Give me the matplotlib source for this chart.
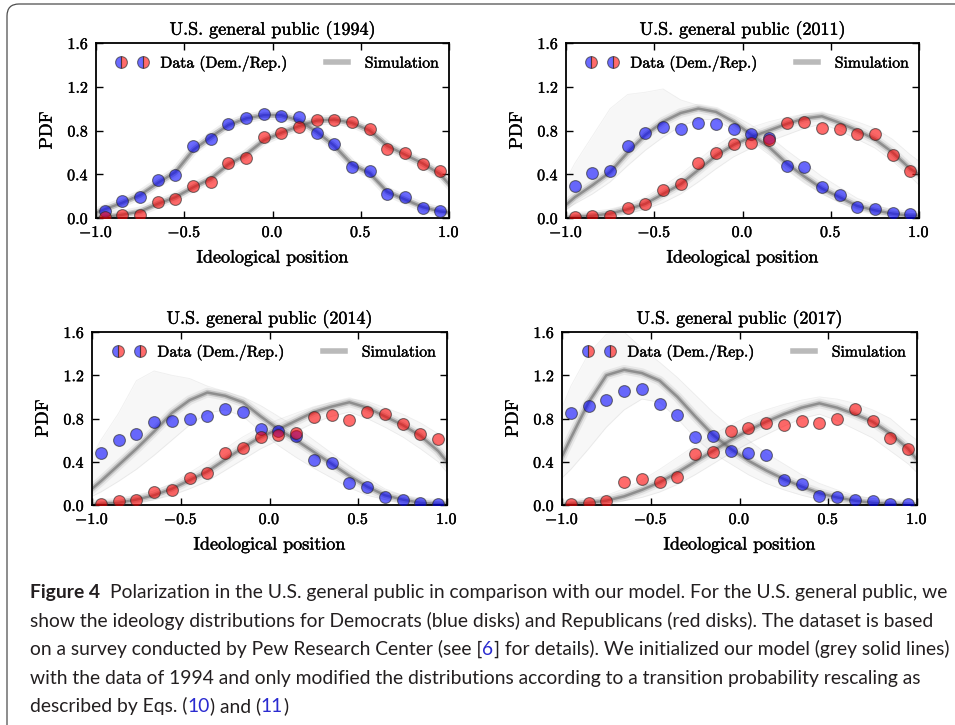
import matplotlib
matplotlib.use('Agg')
import matplotlib.pyplot as plt
import matplotlib.patheffects as pe
from matplotlib.lines import Line2D
from matplotlib.patches import FancyBboxPatch
from matplotlib.transforms import IdentityTransform

plt.rcParams['font.family'] = 'serif'
plt.rcParams['font.serif'] = ['cmr10']
plt.rcParams['mathtext.fontset'] = 'cm'
plt.rcParams['axes.formatter.use_mathtext'] = True

# survey bins (data) and model grid (simulation)
x_data = [-0.95, -0.85, -0.75, -0.65, -0.55, -0.45, -0.35, -0.25, -0.15, -0.05,
          0.05, 0.15, 0.25, 0.35, 0.45, 0.55, 0.65, 0.75, 0.85, 0.95]
x_sim = [-1.0] + x_data + [1.0]

years = ['1994', '2011', '2014', '2017']

# Pew survey, Democrats / Republicans
dem_1994 = [0.06, 0.16, 0.19, 0.35, 0.39, 0.66, 0.72, 0.86, 0.91, 0.95,
            0.93, 0.92, 0.78, 0.68, 0.47, 0.43, 0.22, 0.19, 0.09, 0.06]
rep_1994 = [0.01, 0.03, 0.03, 0.15, 0.17, 0.29, 0.33, 0.50, 0.55, 0.74,
            0.78, 0.83, 0.90, 0.90, 0.88, 0.81, 0.63, 0.59, 0.49, 0.43]
dem_2011 = [0.29, 0.41, 0.43, 0.66, 0.78, 0.83, 0.81, 0.87, 0.86, 0.81,
            0.77, 0.73, 0.48, 0.47, 0.28, 0.21, 0.10, 0.08, 0.05, 0.04]
rep_2011 = [0.01, 0.02, 0.02, 0.09, 0.13, 0.26, 0.31, 0.50, 0.59, 0.68,
            0.69, 0.71, 0.87, 0.88, 0.82, 0.81, 0.77, 0.77, 0.58, 0.43]
dem_2014 = [0.48, 0.60, 0.66, 0.77, 0.78, 0.80, 0.82, 0.89, 0.86, 0.70,
            0.68, 0.64, 0.42, 0.39, 0.20, 0.17, 0.07, 0.05, 0.02, 0.01]
rep_2014 = [0.01, 0.04, 0.05, 0.12, 0.14, 0.25, 0.30, 0.48, 0.53, 0.63,
            0.65, 0.67, 0.81, 0.83, 0.79, 0.86, 0.84, 0.75, 0.66, 0.61]
dem_2017 = [0.85, 0.92, 0.97, 1.05, 1.07, 0.93, 0.83, 0.63, 0.64, 0.50,
            0.48, 0.46, 0.23, 0.19, 0.08, 0.07, 0.05, 0.04, 0.01, 0.01]
rep_2017 = [0.01, 0.02, 0.04, 0.21, 0.24, 0.21, 0.26, 0.47, 0.49, 0.68,
            0.71, 0.76, 0.74, 0.78, 0.76, 0.80, 0.89, 0.78, 0.62, 0.52]

# model runs: bulk of the ensemble (mid) and its lower / upper spread
dem_1994_mid = [0.05, 0.08, 0.14, 0.21, 0.32, 0.42, 0.62, 0.74, 0.85, 0.91, 0.94,
                0.94, 0.89, 0.79, 0.66, 0.49, 0.41, 0.24, 0.17, 0.10, 0.06, 0.05]
dem_1994_lo = [0.03, 0.06, 0.12, 0.19, 0.29, 0.39, 0.59, 0.71, 0.83, 0.89, 0.92,
               0.92, 0.87, 0.76, 0.63, 0.47, 0.39, 0.22, 0.15, 0.09, 0.05, 0.04]
dem_1994_hi = [0.07, 0.10, 0.16, 0.23, 0.34, 0.45, 0.65, 0.77, 0.87, 0.93, 0.96,
               0.96, 0.91, 0.81, 0.69, 0.52, 0.43, 0.26, 0.19, 0.12, 0.08, 0.07]
rep_1994_mid = [0.00, 0.01, 0.03, 0.06, 0.13, 0.19, 0.28, 0.36, 0.49, 0.58, 0.71,
                0.78, 0.84, 0.89, 0.90, 0.87, 0.80, 0.66, 0.58, 0.50, 0.40, 0.31]
rep_1994_lo = [0.00, 0.00, 0.02, 0.05, 0.11, 0.17, 0.26, 0.34, 0.47, 0.56, 0.69,
               0.76, 0.82, 0.87, 0.88, 0.85, 0.77, 0.63, 0.55, 0.47, 0.37, 0.28]
rep_1994_hi = [0.01, 0.02, 0.04, 0.08, 0.15, 0.21, 0.30, 0.38, 0.51, 0.60, 0.73,
               0.80, 0.86, 0.91, 0.92, 0.89, 0.83, 0.69, 0.61, 0.53, 0.43, 0.35]

dem_2011_mid = [0.12, 0.19, 0.30, 0.42, 0.60, 0.76, 0.88, 0.96, 1.00, 0.97, 0.88,
                0.76, 0.65, 0.50, 0.38, 0.27, 0.19, 0.11, 0.07, 0.04, 0.02, 0.02]
dem_2011_lo = [0.08, 0.13, 0.22, 0.33, 0.48, 0.62, 0.74, 0.84, 0.90, 0.90, 0.80,
               0.70, 0.58, 0.44, 0.32, 0.22, 0.14, 0.08, 0.04, 0.02, 0.01, 0.01]
dem_2011_hi = [0.35, 0.50, 0.75, 1.00, 1.13, 1.15, 1.18, 1.08, 1.03, 1.00, 0.94,
               0.85, 0.75, 0.62, 0.50, 0.38, 0.28, 0.18, 0.12, 0.07, 0.04, 0.03]
rep_2011_mid = [0.00, 0.01, 0.02, 0.04, 0.08, 0.13, 0.22, 0.31, 0.44, 0.57, 0.67,
                0.74, 0.80, 0.86, 0.91, 0.93, 0.87, 0.80, 0.72, 0.60, 0.45, 0.40]
rep_2011_lo = [0.00, 0.00, 0.01, 0.02, 0.04, 0.08, 0.14, 0.22, 0.33, 0.45, 0.56,
               0.64, 0.70, 0.76, 0.82, 0.86, 0.80, 0.72, 0.64, 0.52, 0.38, 0.30]
rep_2011_hi = [0.01, 0.02, 0.04, 0.07, 0.12, 0.19, 0.29, 0.40, 0.53, 0.66, 0.76,
               0.83, 0.88, 0.92, 0.95, 0.96, 0.93, 0.88, 0.82, 0.72, 0.58, 0.52]

dem_2014_mid = [0.15, 0.22, 0.37, 0.52, 0.68, 0.85, 0.97, 1.04, 1.01, 0.95, 0.82,
                0.70, 0.60, 0.49, 0.38, 0.27, 0.17, 0.09, 0.05, 0.02, 0.01, 0.01]
dem_2014_lo = [0.08, 0.12, 0.22, 0.33, 0.46, 0.60, 0.74, 0.85, 0.88, 0.82, 0.68,
               0.55, 0.44, 0.34, 0.25, 0.16, 0.09, 0.05, 0.02, 0.01, 0.00, 0.00]
dem_2014_hi = [0.45, 0.60, 0.85, 1.15, 1.24, 1.20, 1.17, 1.10, 1.05, 1.00, 0.92,
               0.82, 0.72, 0.60, 0.48, 0.36, 0.25, 0.15, 0.09, 0.05, 0.03, 0.02]
rep_2014_mid = [0.00, 0.01, 0.02, 0.05, 0.09, 0.15, 0.23, 0.31, 0.42, 0.53, 0.63,
                0.70, 0.78, 0.86, 0.91, 0.95, 0.90, 0.82, 0.74, 0.64, 0.50, 0.40]
rep_2014_lo = [0.00, 0.00, 0.01, 0.02, 0.05, 0.09, 0.15, 0.22, 0.32, 0.42, 0.52,
               0.60, 0.68, 0.76, 0.82, 0.86, 0.80, 0.72, 0.63, 0.52, 0.40, 0.30]
rep_2014_hi = [0.01, 0.02, 0.04, 0.08, 0.13, 0.20, 0.30, 0.40, 0.52, 0.63, 0.72,
               0.79, 0.85, 0.91, 0.95, 0.98, 0.96, 0.90, 0.84, 0.76, 0.66, 0.60]

dem_2017_mid = [0.45, 0.62, 0.95, 1.20, 1.25, 1.22, 1.15, 1.00, 0.82, 0.65, 0.52,
                0.41, 0.32, 0.24, 0.17, 0.11, 0.07, 0.04, 0.02, 0.01, 0.00, 0.00]
dem_2017_lo = [0.25, 0.33, 0.52, 0.72, 0.88, 0.98, 0.95, 0.80, 0.62, 0.48, 0.38,
               0.28, 0.20, 0.14, 0.09, 0.05, 0.03, 0.01, 0.01, 0.00, 0.00, 0.00]
dem_2017_hi = [0.90, 1.10, 1.40, 1.58, 1.60, 1.45, 1.32, 1.18, 1.02, 0.86, 0.72,
               0.60, 0.48, 0.38, 0.28, 0.20, 0.14, 0.09, 0.06, 0.04, 0.02, 0.02]
rep_2017_mid = [0.00, 0.01, 0.02, 0.04, 0.08, 0.14, 0.21, 0.30, 0.40, 0.50, 0.60,
                0.69, 0.77, 0.84, 0.90, 0.94, 0.90, 0.84, 0.77, 0.66, 0.52, 0.42]
rep_2017_lo = [0.00, 0.00, 0.01, 0.02, 0.04, 0.07, 0.12, 0.19, 0.28, 0.38, 0.48,
               0.57, 0.65, 0.73, 0.80, 0.84, 0.78, 0.70, 0.62, 0.50, 0.38, 0.30]
rep_2017_hi = [0.01, 0.02, 0.05, 0.09, 0.15, 0.23, 0.33, 0.44, 0.55, 0.65, 0.74,
               0.82, 0.88, 0.93, 0.97, 1.00, 0.98, 0.94, 0.88, 0.80, 0.66, 0.60]

panels = [
    (dem_1994, rep_1994, (dem_1994_lo, dem_1994_mid, dem_1994_hi), (rep_1994_lo, rep_1994_mid, rep_1994_hi)),
    (dem_2011, rep_2011, (dem_2011_lo, dem_2011_mid, dem_2011_hi), (rep_2011_lo, rep_2011_mid, rep_2011_hi)),
    (dem_2014, rep_2014, (dem_2014_lo, dem_2014_mid, dem_2014_hi), (rep_2014_lo, rep_2014_mid, rep_2014_hi)),
    (dem_2017, rep_2017, (dem_2017_lo, dem_2017_mid, dem_2017_hi), (rep_2017_lo, rep_2017_mid, rep_2017_hi)),
]

W, H = 955, 725
fig = plt.figure(figsize=(W / 100, H / 100), dpi=100)
fig.patch.set_facecolor('white')

# axes boxes in pixels: left, top, right, bottom
boxes = [(96, 43, 449, 218), (566, 43, 919, 218),
         (92, 332, 447, 505), (562, 332, 917, 505)]

blue = (0.0, 0.0, 1.0, 0.58)
red = (1.0, 0.0, 0.0, 0.58)
edge = (0.15, 0.15, 0.15, 0.6)
heavy = [pe.withStroke(linewidth=0.3, foreground='black')]

for (l, t, r, b), year, (dem, rep, dem_sim, rep_sim) in zip(boxes, years, panels):
    ax = fig.add_axes([l / W, 1 - b / H, (r - l) / W, (b - t) / H])
    for lo, mid, hi in (dem_sim, rep_sim):
        ax.fill_between(x_sim, lo, hi, color='0.6', alpha=0.07, lw=0)
        ax.plot(x_sim, lo, color='0.5', lw=0.6, alpha=0.12)
        ax.plot(x_sim, hi, color='0.5', lw=0.6, alpha=0.12)
        ax.plot(x_sim, mid, color='0.5', lw=7, alpha=0.12)
        ax.plot(x_sim, mid, color='0.45', lw=4, alpha=0.3)
        ax.plot(x_sim, mid, color='0.35', lw=1.8, alpha=0.5)
    ax.plot(x_data, dem, 'o', ms=8.5, mfc=blue, mec=edge, mew=0.8, zorder=5)
    ax.plot(x_data, rep, 'o', ms=8.5, mfc=red, mec=edge, mew=0.8, zorder=5)

    ax.set_xlim(-1, 1)
    ax.set_ylim(0, 1.6)
    ax.set_xticks([-1.0, -0.5, 0.0, 0.5, 1.0])
    ax.set_yticks([0.0, 0.4, 0.8, 1.2, 1.6])
    ax.tick_params(direction='in', top=True, right=True, length=5, width=1,
                   labelsize=11.5, pad=5)
    for s in ax.spines.values():
        s.set_linewidth(1.3)
    ax.set_title('U.S. general public (%s)' % year, fontsize=13, pad=6,
                 path_effects=heavy)
    ax.set_xlabel('Ideological position', fontsize=13, labelpad=7,
                  path_effects=heavy)
    ax.set_ylabel('PDF', fontsize=13, labelpad=9, path_effects=heavy)

    handles = [Line2D([], [], ls='none', marker='o', ms=8.5, fillstyle='left',
                      mfc=blue, mfcalt=red, mec=edge, mew=0.8),
               Line2D([], [], color='0.55', lw=4, alpha=0.6)]
    leg = ax.legend(handles, ['Data (Dem./Rep.)', 'Simulation'], loc='upper center',
                    bbox_to_anchor=(0.515, 1.0), ncol=2, frameon=False, numpoints=2,
                    fontsize=11.3, handlelength=2.0, handletextpad=0.8,
                    columnspacing=2.1, borderaxespad=0.4)
    for txt in leg.get_texts():
        txt.set_path_effects(heavy)
    ax.figure.canvas.draw()
    for lab in ax.get_xticklabels() + ax.get_yticklabels():
        lab.set_path_effects(heavy)

# outer frame around figure and caption
frame = FancyBboxPatch((7, -30), 990, H - 4 + 30, boxstyle='round,pad=0,rounding_size=12',
                       transform=IdentityTransform(), fill=False, ec='0.3', lw=0.9)
fig.add_artist(frame)

# caption, set line by line; link numbers in blue
ink = '#231f20'
link = '#2b2bd0'
cap_lines = [
    [('Figure 4', ink, 'bold'),
     ('Polarization in the U.S. general public in comparison with our model. For the U.S. general public, we', ink, 'normal')],
    [('show the ideology distributions for Democrats (blue disks) and Republicans (red disks). The dataset is based', ink, 'normal')],
    [('on a survey conducted by Pew Research Center (see [', ink, 'normal'), ('6', link, 'normal'),
     ('] for details). We initialized our model (grey solid lines)', ink, 'normal')],
    [('with the data of 1994 and only modified the distributions according to a transition probability rescaling as', ink, 'normal')],
    [('described by Eqs. (', ink, 'normal'), ('10', link, 'normal'), (') and (', ink, 'normal'),
     ('11', link, 'normal'), (')', ink, 'normal')],
]
baselines = [598, 627, 655, 684, 712]
cap_font = 'Lato'

renderer = fig.canvas.get_renderer()
probe = fig.text(0, 0, cap_lines[1][0][0], fontsize=10, family=cap_font)
scale = 905 / probe.get_window_extent(renderer).width
probe.remove()
cap_size = 10 * scale

for segs, yb in zip(cap_lines, baselines):
    x = 30
    for txt, col, wt in segs:
        t = fig.text(x / W, 1 - yb / H, txt, fontsize=cap_size, family=cap_font,
                     color=col, weight=wt, va='baseline', ha='left')
        x += t.get_window_extent(renderer).width
        if wt == 'bold':
            x += 10

fig.savefig('out.png', dpi=100, facecolor='white')
